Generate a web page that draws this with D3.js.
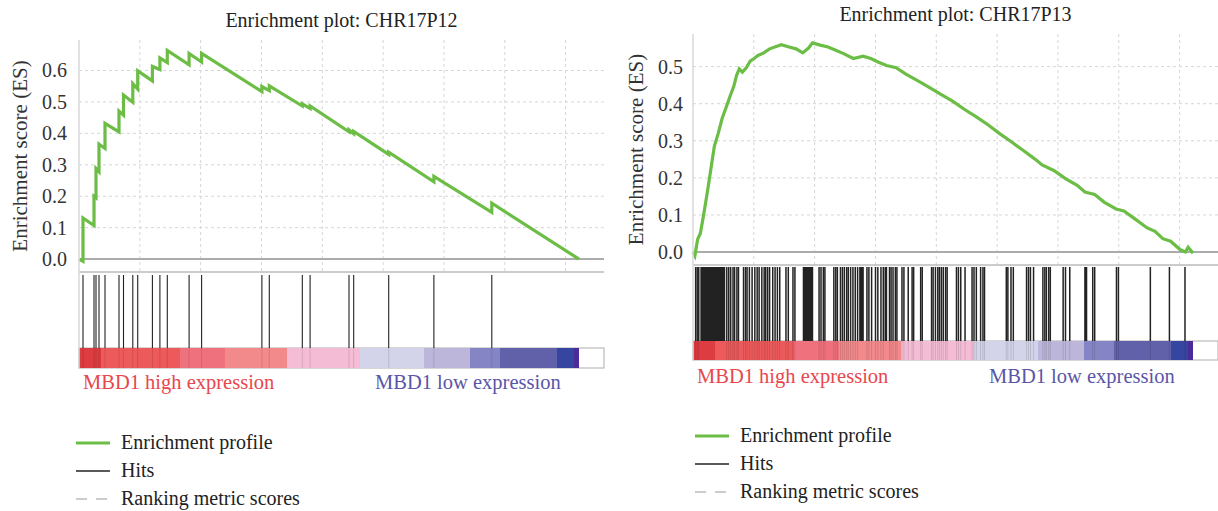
<!DOCTYPE html>
<html>
<head>
<meta charset="utf-8">
<script src="https://cdn.jsdelivr.net/npm/d3@7"></script>
<style>
  body { margin: 0; background: #fff; }
  text { font-family: "Liberation Serif", Tinos, "Noto Serif", "DejaVu Serif", serif; }
</style>
</head>
<body>
<script>
var width = 1218;
var height = 511;

// ranked list (shared by both plots)
var rankMax = 20550;
var rankGrid = [2500, 5000, 7500, 10000, 12500, 15000, 17500, 20000];
var barBreaks = [0, 904, 4151, 6000, 8549, 11549, 14180, 16070, 17303, 19646, 20345, 20550];
var barColors = ["#dd3d40", "#ed5a5c", "#f0717e", "#f28a8c", "#f4bdd5", "#d3d3e9",
                 "#bcb7da", "#8585c5", "#6161aa", "#3646a0", "#4b2a99"];

// CHR17P12
var p12Ticks = [0, 0.1, 0.2, 0.3, 0.4, 0.5, 0.6];
var p12Hits = [164, 617, 699, 822, 1069, 1644, 1829, 2211, 2413, 3017, 3325, 3629,
               4525, 5039, 7517, 7821, 9178, 9498, 11097, 11290, 12729, 14586, 16966];
var p12Before = [-0.007, 0.107, 0.195, 0.278, 0.352, 0.405, 0.458, 0.499, 0.541, 0.567, 0.603, 0.625,
                 0.618, 0.627, 0.533, 0.536, 0.487, 0.479, 0.405, 0.399, 0.333, 0.246, 0.149];
var p12After = [0.131, 0.200, 0.288, 0.366, 0.432, 0.471, 0.522, 0.558, 0.599, 0.613, 0.640, 0.664,
                0.654, 0.654, 0.549, 0.551, 0.494, 0.487, 0.411, 0.406, 0.340, 0.263, 0.178];

// CHR17P13
var p13Ticks = [0, 0.1, 0.2, 0.3, 0.4, 0.5];
var p13Rank = [0, 77, 189, 301, 397, 509, 621, 749, 877, 1037, 1197, 1389, 1549, 1677, 1789, 1901,
               2029, 2189, 2349, 2509, 2669, 2909, 3149, 3629, 3949, 4237, 4509, 4749, 4909, 5229,
               5549, 5869, 6189, 6589, 6989, 7309, 7629, 7949, 8349, 8749, 9229, 9709, 10189, 10669,
               11149, 11629, 12109, 12589, 13069, 13549, 14029, 14349, 14829, 15309, 15789, 16109,
               16509, 16909, 17389, 17709, 18189, 18669, 18989, 19309, 19629, 20029, 20237, 20349, 20550];
var p13ES = [0, -0.01, 0.034, 0.05, 0.085, 0.129, 0.175, 0.23, 0.285, 0.32, 0.36, 0.395, 0.425, 0.447,
             0.476, 0.494, 0.485, 0.497, 0.515, 0.522, 0.53, 0.537, 0.548, 0.559, 0.553, 0.548, 0.537,
             0.55, 0.564, 0.558, 0.553, 0.544, 0.535, 0.522, 0.528, 0.522, 0.512, 0.503, 0.497, 0.48,
             0.462, 0.444, 0.425, 0.407, 0.385, 0.365, 0.344, 0.32, 0.298, 0.275, 0.252, 0.235, 0.22,
             0.198, 0.18, 0.162, 0.155, 0.134, 0.116, 0.111, 0.088, 0.065, 0.056, 0.036, 0.029, 0.006,
             0, 0.013, -0.003];
var p13Hits = [109, 173, 237, 1389, 1469, 1549, 1645, 1709, 1805, 1869, 2077, 2157, 2221, 2317, 2429,
               2541, 2637, 2717, 2829, 2925, 2989, 3069, 3149, 3277, 3373, 3469, 3565, 3821, 3917, 4109,
               4189, 5181, 5261, 5357, 5421, 5789, 5869, 5933, 6061, 6141, 6221, 6317, 6381, 6477, 6573,
               6669, 6765, 7149, 7229, 7341, 7501, 7597, 7725, 7821, 8077, 8141, 8221, 8317, 8381, 8589,
               8669, 8845, 9005, 9069, 9357, 9421, 9805, 9869, 9965, 10061, 10125, 10205, 10285, 10381,
               10445, 10829, 10909, 11005, 11181, 11469, 11549, 11645, 11821, 11917, 11981, 12877, 12941,
               13069, 13165, 13709, 13789, 13869, 13997, 14381, 14461, 14525, 14621, 14685, 15213, 15309,
               15485, 16429, 16509, 17405, 17485, 18797, 19581, 20221];
var p13HitBlocks = [[301, 1325], [4509, 4941], [6829, 7021], [7869, 7981], [16077, 16205]];

var legendNames = ["Enrichment profile", "Hits", "Ranking metric scores"];

var green = "#6cbd45";
var serif = "'Liberation Serif', Tinos, 'Noto Serif', 'DejaVu Serif', serif";

var svg = d3.select("body")
  .append("svg")
  .attr("width", width)
  .attr("height", height);

function drawPanel(c) {
  var g = svg.append("g");
  var x = d3.scaleLinear().domain([0, rankMax]).range([c.x0, c.x0 + 500]);
  var y = d3.scaleLinear().domain(c.esDomain).range([c.esBottom, c.top]);

  // grid
  g.append("g").selectAll("line")
    .data(rankGrid)
    .enter().append("line")
      .attr("x1", function(d) { return x(d); })
      .attr("x2", function(d) { return x(d); })
      .attr("y1", c.top)
      .attr("y2", c.esBottom)
      .attr("stroke", "#d6d6d6")
      .attr("stroke-dasharray", "3,3");

  g.append("g").selectAll("line")
    .data(c.ticks.slice(1))
    .enter().append("line")
      .attr("x1", c.x0)
      .attr("x2", c.right)
      .attr("y1", function(d) { return y(d); })
      .attr("y2", function(d) { return y(d); })
      .attr("stroke", "#d6d6d6")
      .attr("stroke-dasharray", "3,3");

  // zero line
  g.append("line")
    .attr("x1", c.x0).attr("x2", c.right)
    .attr("y1", y(0)).attr("y2", y(0))
    .attr("stroke", "#ababab")
    .attr("stroke-width", 2);

  // y axis labels
  var yAxis = g.append("g")
    .attr("transform", "translate(" + c.x0 + ",0)")
    .call(d3.axisLeft(y).tickValues(c.ticks).tickFormat(d3.format(".1f")).tickSize(0).tickPadding(c.pad));
  yAxis.attr("font-family", serif);
  yAxis.select(".domain").remove();
  yAxis.selectAll("text")
    .style("font-size", "20px")
    .attr("fill", "#333");

  // enrichment profile
  g.append("path")
    .datum(c.curve)
    .attr("fill", "none")
    .attr("stroke", green)
    .attr("stroke-width", 3.2)
    .attr("d", d3.line()
      .x(function(d) { return x(d[0]); })
      .y(function(d) { return y(d[1]); }));

  // separators / frame
  g.append("line")
    .attr("x1", c.x0).attr("x2", c.right)
    .attr("y1", c.esBottom).attr("y2", c.esBottom)
    .attr("stroke", "#bbb").attr("stroke-width", 1.5);

  g.append("rect")
    .attr("x", c.x0).attr("y", c.barTop)
    .attr("width", c.right - c.x0).attr("height", c.barBottom - c.barTop)
    .attr("fill", "#fff")
    .attr("stroke", "#bbb").attr("stroke-width", 1.2);

  // ranking metric colour bar
  g.append("g").selectAll("rect")
    .data(barColors)
    .enter().append("rect")
      .attr("x", function(d, i) { return x(barBreaks[i]); })
      .attr("width", function(d, i) { return x(barBreaks[i + 1]) - x(barBreaks[i]); })
      .attr("y", c.barTop)
      .attr("height", c.barBottom - c.barTop)
      .attr("fill", function(d) { return d; });

  // hits
  var hits = g.append("g");
  hits.selectAll("line")
    .data(c.hits)
    .enter().append("line")
      .attr("x1", function(d) { return x(d); })
      .attr("x2", function(d) { return x(d); })
      .attr("y1", c.hitTop)
      .attr("y2", c.barTop)
      .attr("stroke", "#222")
      .attr("stroke-width", c.hitWidth);
  hits.selectAll("rect")
    .data(c.blocks)
    .enter().append("rect")
      .attr("x", function(d) { return x(d[0]); })
      .attr("width", function(d) { return x(d[1]) - x(d[0]); })
      .attr("y", c.hitTop)
      .attr("height", c.barTop - c.hitTop)
      .attr("fill", "#222");

  // hits shining through the colour bar
  g.append("g").selectAll("line")
    .data(c.hits)
    .enter().append("line")
      .attr("x1", function(d) { return x(d); })
      .attr("x2", function(d) { return x(d); })
      .attr("y1", c.barTop)
      .attr("y2", c.barBottom)
      .attr("stroke", "#000")
      .attr("stroke-opacity", 0.12);

  // left border
  g.append("line")
    .attr("x1", c.x0).attr("x2", c.x0)
    .attr("y1", c.top).attr("y2", c.barBottom)
    .attr("stroke", "#d8d8d8").attr("stroke-width", 1.5);

  // titles and labels
  g.append("text")
    .attr("x", (c.x0 + c.right) / 2)
    .attr("y", c.titleY)
    .attr("text-anchor", "middle")
    .style("font-size", "20px")
    .attr("fill", "#222")
    .text(c.title);

  g.append("text")
    .attr("transform", "translate(" + c.labelX + "," + ((c.top + c.esBottom) / 2) + ") rotate(-90)")
    .attr("text-anchor", "middle")
    .style("font-size", "21px")
    .attr("fill", "#333")
    .text("Enrichment score (ES)");

  g.append("text")
    .attr("x", c.x0 + 4)
    .attr("y", c.phenoY)
    .style("font-size", "20.5px")
    .attr("fill", "#e8474c")
    .text("MBD1 high expression");

  g.append("text")
    .attr("x", c.x0 + 296)
    .attr("y", c.phenoY)
    .style("font-size", "20.5px")
    .attr("fill", "#5a55a8")
    .text("MBD1 low expression");

  // legend
  var lg = g.append("g").attr("transform", "translate(" + c.legX + ",0)");
  var legStroke = [green, "#222", "#ccc"];
  var legWidth = [3, 1.5, 2];
  var legDash = [null, null, "11,9"];
  legendNames.forEach(function(name, i) {
    var yy = c.legY + i * 28;
    lg.append("line")
      .attr("x1", 0).attr("x2", 34)
      .attr("y1", yy - 6).attr("y2", yy - 6)
      .attr("stroke", legStroke[i])
      .attr("stroke-width", legWidth[i])
      .attr("stroke-dasharray", legDash[i]);
    lg.append("text")
      .attr("x", 45)
      .attr("y", yy)
      .style("font-size", "20px")
      .attr("fill", "#222")
      .text(name);
  });
}

var p12Curve = [[0, 0]];
p12Hits.forEach(function(h, i) {
  p12Curve.push([h, p12Before[i]]);
  p12Curve.push([h, p12After[i]]);
});
p12Curve.push([rankMax, 0]);

var p13Curve = p13Rank.map(function(r, i) { return [r, p13ES[i]]; });

drawPanel({
  title: "Enrichment plot: CHR17P12",
  x0: 79, right: 604, top: 40, esBottom: 272, esDomain: [-0.041, 0.697],
  ticks: p12Ticks, pad: 12, curve: p12Curve, hits: p12Hits, blocks: [], hitWidth: 1.1,
  hitTop: 275, barTop: 348, barBottom: 368,
  titleY: 27, labelX: 27, phenoY: 389, legX: 76, legY: 449
});

drawPanel({
  title: "Enrichment plot: CHR17P13",
  x0: 693, right: 1218, top: 34, esBottom: 265, esDomain: [-0.035, 0.588],
  ticks: p13Ticks, pad: 10, curve: p13Curve, hits: p13Hits, blocks: p13HitBlocks, hitWidth: 1.5,
  hitTop: 267, barTop: 341, barBottom: 360,
  titleY: 21, labelX: 643, phenoY: 383, legX: 695, legY: 442
});
</script>
</body>
</html>
